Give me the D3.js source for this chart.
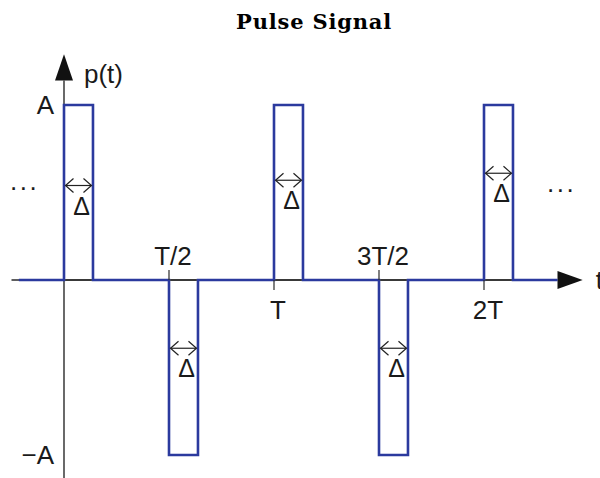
<!DOCTYPE html>
<html>
<head>
<meta charset="utf-8">
<script src="https://cdn.jsdelivr.net/npm/d3@7"></script>
<style>
  body { margin: 0; background: #fff; }
  svg { display: block; }
</style>
</head>
<body>
<div id="chart"></div>
<script>
// pulse train data, time in units of T, amplitude in units of A
var pulseStarts = [0, 0.5, 1, 1.5, 2];
var pulseSigns = [1, -1, 1, -1, 1];
var pulseWidth = 0.138;            // Delta
var arrowLevels = [0.54, -0.39, 0.57, -0.39, 0.61];
var signalRange = [-0.215, 2.35];
var tickValues = [0.5, 1, 1.5, 2];
var tickLabels = ["T/2", "T", "3T/2", "2T"];
var tickSides = ["up", "down", "up", "down"];
var levelValues = [1, -1];
var levelLabels = ["A", "\u2212A"];

var svgWidth = 600, svgHeight = 478;
var svg = d3.select("#chart").append("svg").attr("width", svgWidth).attr("height", svgHeight);

var x = d3.scaleLinear().domain([0, 2]).range([64, 484]);
var y = d3.scaleLinear().domain([-1, 1]).range([455, 105]);

var blue = "#2b3a9e", axisCol = "#2a2a2a", txtCol = "#1a1a1a";
var labelFont = "'Liberation Sans', Arial, sans-serif";
var fs = 26;

// title
svg.append("text").attr("x", 314).attr("y", 29).attr("text-anchor", "middle")
    .attr("font-family", "'DejaVu Serif', serif").attr("font-weight", "bold")
    .attr("font-size", 21).attr("letter-spacing", 0.8).text("Pulse Signal");

// axes
svg.append("line").attr("x1", x(-0.25)).attr("x2", x(2.35)).attr("y1", y(0)).attr("y2", y(0))
    .attr("stroke", axisCol).attr("stroke-width", 1.4);
svg.append("line").attr("x1", x(0)).attr("x2", x(0)).attr("y1", svgHeight).attr("y2", y(1.14))
    .attr("stroke", axisCol).attr("stroke-width", 1.4);
// arrow heads
svg.append("path").attr("fill", "#111")
    .attr("d", "M" + x(2.35) + "," + (y(0) - 9) + "L" + x(2.47) + "," + y(0) + "L" + x(2.35) + "," + (y(0) + 9) + "Z");
svg.append("path").attr("fill", "#111")
    .attr("d", "M" + (x(0) - 9) + "," + y(1.14) + "L" + x(0) + "," + y(1.29) + "L" + (x(0) + 9) + "," + y(1.14) + "Z");

// signal path
var pts = [[signalRange[0], 0]];
pulseStarts.forEach(function (s, i) {
    pts.push([s, 0], [s, pulseSigns[i]], [s + pulseWidth, pulseSigns[i]], [s + pulseWidth, 0]);
});
pts.push([signalRange[1], 0]);
var line = d3.line().x(function (d) { return x(d[0]); }).y(function (d) { return y(d[1]); });
svg.append("path").attr("d", line(pts)).attr("fill", "none")
    .attr("stroke", blue).attr("stroke-width", 2.6).attr("stroke-linejoin", "miter");

// redraw the axis where the signal leaves it (under the pulses)
pulseStarts.forEach(function (s) {
    svg.append("line").attr("x1", x(s) + 1.5).attr("x2", x(s + pulseWidth) - 1.5)
        .attr("y1", y(0)).attr("y2", y(0)).attr("stroke", axisCol).attr("stroke-width", 1.4);
});

// ticks and labels
tickValues.forEach(function (t, i) {
    var up = tickSides[i] == "up";
    svg.append("line").attr("x1", x(t)).attr("x2", x(t))
        .attr("y1", y(0)).attr("y2", y(0) + (up ? -10 : 10))
        .attr("stroke", axisCol).attr("stroke-width", 1.2);
    svg.append("text").attr("x", x(t) + 4).attr("y", up ? y(0) - 15 : y(0) + 39)
        .attr("text-anchor", "middle").attr("font-family", labelFont).attr("font-size", fs)
        .attr("fill", txtCol).text(tickLabels[i]);
});

levelValues.forEach(function (v, i) {
    svg.append("text").attr("x", x(0) - 10).attr("y", y(v) + 9)
        .attr("text-anchor", "end").attr("font-family", labelFont).attr("font-size", fs)
        .attr("fill", txtCol).text(levelLabels[i]);
});

svg.append("text").attr("x", x(0) + 20).attr("y", 83).attr("font-family", labelFont)
    .attr("font-size", fs).attr("fill", txtCol).text("p(t)");
svg.append("text").attr("x", x(2.47) + 13).attr("y", y(0) + 9).attr("font-family", labelFont)
    .attr("font-size", fs).attr("fill", txtCol).text("t");

// ellipsis
svg.append("text").attr("x", 10).attr("y", 190).attr("font-family", labelFont)
    .attr("font-size", fs).attr("letter-spacing", 2.5).attr("fill", txtCol).text("...");
svg.append("text").attr("x", 547).attr("y", 192).attr("font-family", labelFont)
    .attr("font-size", fs).attr("letter-spacing", 2.5).attr("fill", txtCol).text("...");

// delta width markers
pulseStarts.forEach(function (s, i) {
    var x0 = x(s) + 1.5, x1 = x(s + pulseWidth) - 1.5, yy = y(arrowLevels[i]);
    var g = svg.append("g").attr("stroke", "#222").attr("stroke-width", 1.2).attr("fill", "none");
    g.append("line").attr("x1", x0).attr("x2", x1).attr("y1", yy).attr("y2", yy);
    g.append("path").attr("d", "M" + (x0 + 8) + "," + (yy - 7) + "L" + x0 + "," + yy + "L" + (x0 + 8) + "," + (yy + 7));
    g.append("path").attr("d", "M" + (x1 - 8) + "," + (yy - 7) + "L" + x1 + "," + yy + "L" + (x1 - 8) + "," + (yy + 7));
    svg.append("text").attr("x", (x0 + x1) / 2 + 3).attr("y", yy + 29).attr("text-anchor", "middle")
        .attr("font-family", labelFont).attr("font-size", 25).attr("fill", txtCol).text("\u0394");
});
</script>
</body>
</html>
